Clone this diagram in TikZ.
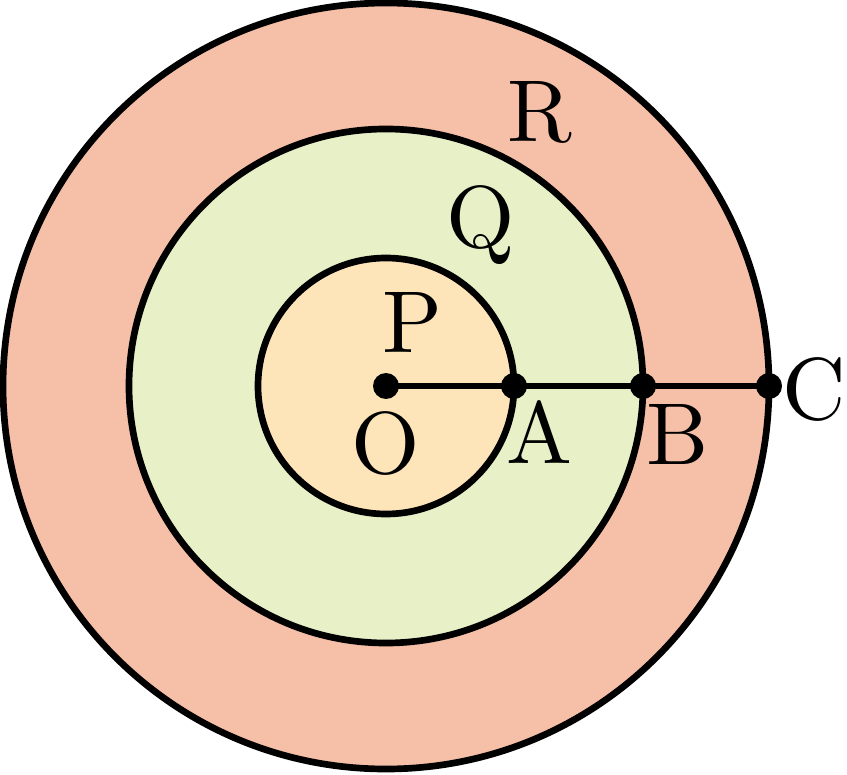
\documentclass[tikz,border=0pt]{standalone}
\usepackage{tikz}
\usepackage{graphicx}
\usetikzlibrary{positioning}
\definecolor{ringR}{HTML}{F6BFA8}
\definecolor{ringQ}{HTML}{E7F0C6}
\definecolor{ringP}{HTML}{FEE5B9}
\newcommand{\biglbl}[1]{\scalebox{2.5}{#1}}
\tikzset {
	ring/.style={draw, line width=1.9pt},
	dot/.style={circle, fill, inner sep=0pt, minimum size=0.26cm},
	lbl/.style={anchor=base, inner sep=0pt}
}
\begin{document}
\begin{tikzpicture}
	\useasboundingbox (-3.86,-3.88) rectangle (4.61,3.86);
	\filldraw[ringR, ring, draw=black] (0,0) circle (3.83);
	\filldraw[ringQ, ring, draw=black] (0,0) circle (2.57);
	\filldraw[ringP, ring, draw=black] (0,0) circle (1.28);
	\node [dot] (O) at (0,0) {};
	\node [dot] (A) at (1.28,0) {};
	\node [dot] (B) at (2.57,0) {};
	\node [dot] (C) at (3.83,0) {};
	\draw [line width=1.8pt] (O.center) -- (C.center);
	\node [lbl] (labelR) at (1.54,2.44) {\biglbl{R}};
	\node [lbl] (labelQ) at (0.95,1.38) {\biglbl{Q}};
	\node [lbl] (labelP) at (0.26,0.33) {\biglbl{P}};
	\node [lbl] (labelO) at (0,-0.87) {\biglbl{O}};
	\node [lbl] (labelA) at (1.53,-0.78) {\biglbl{A}};
	\node [lbl] (labelB) at (2.92,-0.79) {\biglbl{B}};
	\node [lbl] (labelC) at (4.28,-0.34) {\biglbl{C}};
\end{tikzpicture}
\end{document}
